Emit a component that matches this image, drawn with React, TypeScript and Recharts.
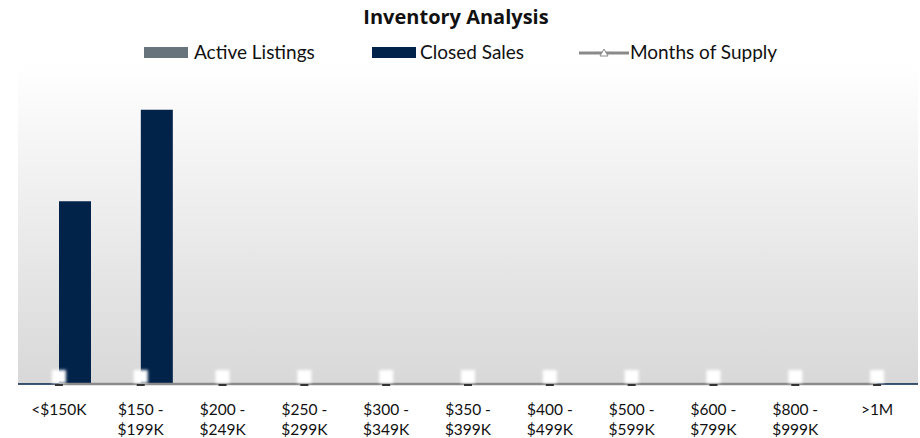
import { ComposedChart, Bar, Line, XAxis, YAxis, CartesianGrid, ReferenceLine } from "recharts";

const CATEGORIES = [
  "<$150K",
  "$150 -\n$199K",
  "$200 -\n$249K",
  "$250 -\n$299K",
  "$300 -\n$349K",
  "$350 -\n$399K",
  "$400 -\n$499K",
  "$500 -\n$599K",
  "$600 -\n$799K",
  "$800 -\n$999K",
  ">1M",
];
const ACTIVE_LISTINGS = [0, 0, 0, 0, 0, 0, 0, 0, 0, 0, 0];
const CLOSED_SALES = [2, 3, 0, 0, 0, 0, 0, 0, 0, 0, 0];
const MONTHS_SUPPLY = [0, 0, 0, 0, 0, 0, 0, 0, 0, 0, 0];

const data = CATEGORIES.map((name, i) => ({
  name,
  active: ACTIVE_LISTINGS[i],
  closed: CLOSED_SALES[i],
  supply: MONTHS_SUPPLY[i],
}));

const FONT = "Lato, 'Open Sans', sans-serif";
const ACTIVE_COLOR = "#68747c";
const CLOSED_COLOR = "#012249";
const LINE_COLOR = "#8a8a8a";

const Tick = ({ x, y, payload }: any) => {
  const lines = String(payload.value).split("\n");
  return (
    <text x={x} y={y} textAnchor="middle" fontSize={15.5} fontFamily={FONT} fill="#111">
      {lines.map((l, i) => (
        <tspan key={i} x={x} dy={i === 0 ? 23 : 20}>
          {l}
        </tspan>
      ))}
    </text>
  );
};

// white glow marker with a small dark dash on the line
const SupplyDot = ({ cx, cy, index }: any) => (
  <g key={index}>
    <rect x={cx - 7} y={cy - 14} width={14} height={13} fill="#ffffff" filter="url(#glow)" />
    <rect x={cx - 4} y={cy} width={8} height={2} fill="#333" />
  </g>
);

const Legend = () => (
  <div
    style={{
      position: "absolute",
      top: 40,
      left: 0,
      width: 920,
      fontFamily: FONT,
      fontSize: 19,
      color: "#111",
    }}
  >
    <div style={{ position: "absolute", left: 144, top: 7, width: 44, height: 11, background: ACTIVE_COLOR }} />
    <div style={{ position: "absolute", left: 194, top: 0 }}>Active Listings</div>
    <div style={{ position: "absolute", left: 372, top: 7, width: 44, height: 11, background: CLOSED_COLOR }} />
    <div style={{ position: "absolute", left: 420, top: 0 }}>Closed Sales</div>
    <svg style={{ position: "absolute", left: 579, top: 3 }} width={52} height={20}>
      <line x1={0} y1={10} x2={50} y2={10} stroke={LINE_COLOR} strokeWidth={3} />
      <path d="M21 13 L25 6 L29 13 Z" fill="#fff" stroke={LINE_COLOR} strokeWidth={1} />
    </svg>
    <div style={{ position: "absolute", left: 630, top: 0 }}>Months of Supply</div>
  </div>
);

export default function App() {
  return (
    <div style={{ position: "absolute", left: 0, top: 0, width: 920, height: 438, background: "#fff" }}>
      <div
        style={{
          position: "absolute",
          top: 3,
          left: 0,
          width: 912,
          textAlign: "center",
          fontFamily: "'Open Sans', sans-serif",
          fontWeight: 700,
          fontSize: 20,
          color: "#111",
        }}
      >
        Inventory Analysis
      </div>
      <Legend />
      <ComposedChart
        width={920}
        height={438}
        data={data}
        margin={{ top: 64, right: 2, bottom: 0, left: 18 }}
        barGap={0}
        barSize={32}
      >
        <defs>
          <linearGradient id="bg" x1="0" y1="0" x2="0" y2="1">
            <stop offset="0%" stopColor="#ffffff" />
            <stop offset="100%" stopColor="#d8d8d8" />
          </linearGradient>
          <filter id="glow" x="-50%" y="-50%" width="200%" height="200%">
            <feGaussianBlur stdDeviation="1.5" />
          </filter>
        </defs>
        <CartesianGrid horizontal={false} vertical={false} fill="url(#bg)" />
        <XAxis
          dataKey="name"
          height={54}
          interval={0}
          tickLine={false}
          axisLine={false}
          tick={<Tick />}
        />
        <YAxis hide domain={[0, 3.5]} />
        <ReferenceLine y={0} stroke={CLOSED_COLOR} strokeWidth={1.5} />
        <Bar dataKey="active" name="Active Listings" fill={ACTIVE_COLOR} isAnimationActive={false} />
        <Bar dataKey="closed" name="Closed Sales" fill={CLOSED_COLOR} isAnimationActive={false} />
        <Line
          dataKey="supply"
          name="Months of Supply"
          stroke={LINE_COLOR}
          strokeWidth={2.5}
          dot={<SupplyDot />}
          isAnimationActive={false}
        />
      </ComposedChart>
    </div>
  );
}
